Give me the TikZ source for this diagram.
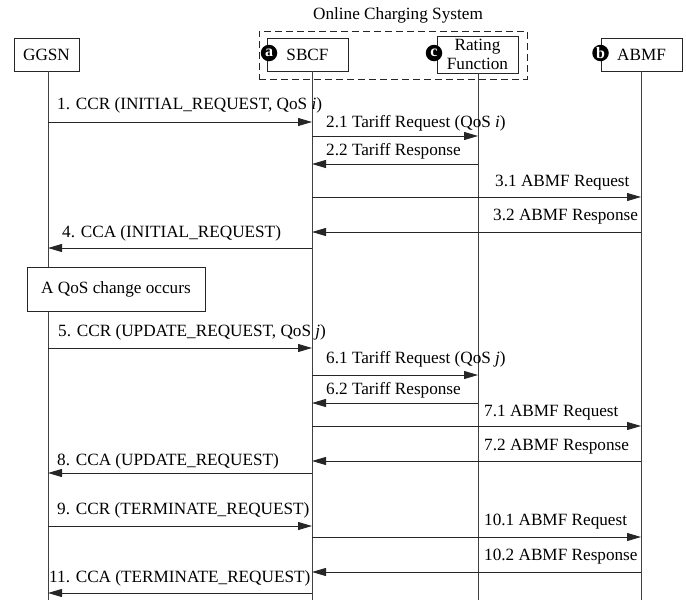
\documentclass[tikz,border=0pt]{standalone}
\usepackage{fontspec}
\setmainfont{Liberation Serif}
\usetikzlibrary{arrows.meta}

\begin{document}
\begin{tikzpicture}[x=1pt,y=1pt,
  font=\fontsize{17.2}{19}\selectfont,
  entity/.style={draw=black!85, line width=0.9pt, fill=white, inner sep=0, minimum height=33, minimum width=81},
  badge/.style={circle, fill=black, text=white, inner sep=0, minimum size=16.5, font=\fontsize{16}{16}\selectfont\bfseries},
  life/.style={draw=black!75, line width=0.9pt},
  msg/.style={draw=black!85, line width=0.9pt, -{Triangle[length=14pt,width=8pt]}},
  lbl/.style={anchor=west, inner sep=0}]
\useasboundingbox (0,0) rectangle (686,-600);

\node (ocstitle) at (398,-15) {Online Charging System};
\node[draw=black!85, line width=0.9pt, dash pattern=on 7pt off 4pt, minimum width=268, minimum height=48] (ocs) at (393,-55) {};

\node[entity, minimum width=65] (ggsn) at (46.5,-54.5) {GGSN};
\node[entity] (sbcf) at (307.5,-54.5) {SBCF};
\node[entity, minimum height=37, align=center, font=\fontsize{17.2}{18.5}\selectfont] (rating) at (477.5,-54.5) {Rating\\Function};
\node[entity] (abmf) at (641.5,-54.5) {ABMF};
\node[badge] (ba) at (269,-53) {a};
\node[badge] (bc) at (434,-53) {c};
\node[badge] (bb) at (600.5,-53) {b};

\coordinate (ggsnEnd) at (48,-600);
\coordinate (sbcfEnd) at (312,-600);
\coordinate (ratingEnd) at (478,-600);
\coordinate (abmfEnd) at (641,-600);
\draw[life] (ggsn.south -| ggsnEnd) -- (ggsnEnd);
\draw[life] (sbcf.south -| sbcfEnd) -- (sbcfEnd);
\draw[life] (rating.south -| ratingEnd) -- (ratingEnd);
\draw[life] (abmf.south -| abmfEnd) -- (abmfEnd);

\node[draw=black!85, line width=0.9pt, fill=white, minimum width=178, minimum height=44] (qos) at (116,-289) {A QoS change occurs};

\coordinate (r1) at (0,-122);
\coordinate (r21) at (0,-136);
\coordinate (r22) at (0,-164);
\coordinate (r31) at (0,-197);
\coordinate (r32) at (0,-232);
\coordinate (r4) at (0,-248);
\coordinate (r5) at (0,-348);
\coordinate (r61) at (0,-375);
\coordinate (r62) at (0,-403);
\coordinate (r71) at (0,-426);
\coordinate (r72) at (0,-461);
\coordinate (r8) at (0,-473);
\coordinate (r9) at (0,-526);
\coordinate (r101) at (0,-537);
\coordinate (r102) at (0,-572);
\coordinate (r11) at (0,-593);

\draw[msg] (ggsnEnd |- r1) -- (sbcfEnd |- r1);
\node[lbl] (t1) at (57,-105) {1. CCR (INITIAL\_REQUEST, QoS \textit{i})};
\draw[msg] (sbcfEnd |- r21) -- (ratingEnd |- r21);
\node[lbl] (t21) at (326,-123) {2.1 Tariff Request (QoS \textit{i})};
\draw[msg] (ratingEnd |- r22) -- (sbcfEnd |- r22);
\node[lbl] (t22) at (326,-151) {2.2 Tariff Response};
\draw[msg] (sbcfEnd |- r31) -- (abmfEnd |- r31);
\node[lbl] (t31) at (495,-183) {3.1 ABMF Request};
\draw[msg] (abmfEnd |- r32) -- (sbcfEnd |- r32);
\node[lbl] (t32) at (493,-217) {3.2 ABMF Response};
\draw[msg] (sbcfEnd |- r4) -- (ggsnEnd |- r4);
\node[lbl] (t4) at (62,-233) {4. CCA (INITIAL\_REQUEST)};

\draw[msg] (ggsnEnd |- r5) -- (sbcfEnd |- r5);
\node[lbl] (t5) at (58,-332) {5. CCR (UPDATE\_REQUEST, QoS \textit{j})};
\draw[msg] (sbcfEnd |- r61) -- (ratingEnd |- r61);
\node[lbl] (t61) at (326,-359) {6.1 Tariff Request (QoS \textit{j})};
\draw[msg] (ratingEnd |- r62) -- (sbcfEnd |- r62);
\node[lbl] (t62) at (326,-390) {6.2 Tariff Response};
\draw[msg] (sbcfEnd |- r71) -- (abmfEnd |- r71);
\node[lbl] (t71) at (484,-413) {7.1 ABMF Request};
\draw[msg] (abmfEnd |- r72) -- (sbcfEnd |- r72);
\node[lbl] (t72) at (484,-447) {7.2 ABMF Response};
\draw[msg] (sbcfEnd |- r8) -- (ggsnEnd |- r8);
\node[lbl] (t8) at (57,-461) {8. CCA (UPDATE\_REQUEST)};

\draw[msg] (ggsnEnd |- r9) -- (sbcfEnd |- r9);
\node[lbl] (t9) at (57,-510) {9. CCR (TERMINATE\_REQUEST)};
\draw[msg] (sbcfEnd |- r101) -- (abmfEnd |- r101);
\node[lbl] (t101) at (484,-522) {10.1 ABMF Request};
\draw[msg] (abmfEnd |- r102) -- (sbcfEnd |- r102);
\node[lbl] (t102) at (484,-557) {10.2 ABMF Response};
\draw[msg] (sbcfEnd |- r11) -- (ggsnEnd |- r11);
\node[lbl] (t11) at (49,-578) {11. CCA (TERMINATE\_REQUEST)};
\end{tikzpicture}
\end{document}
